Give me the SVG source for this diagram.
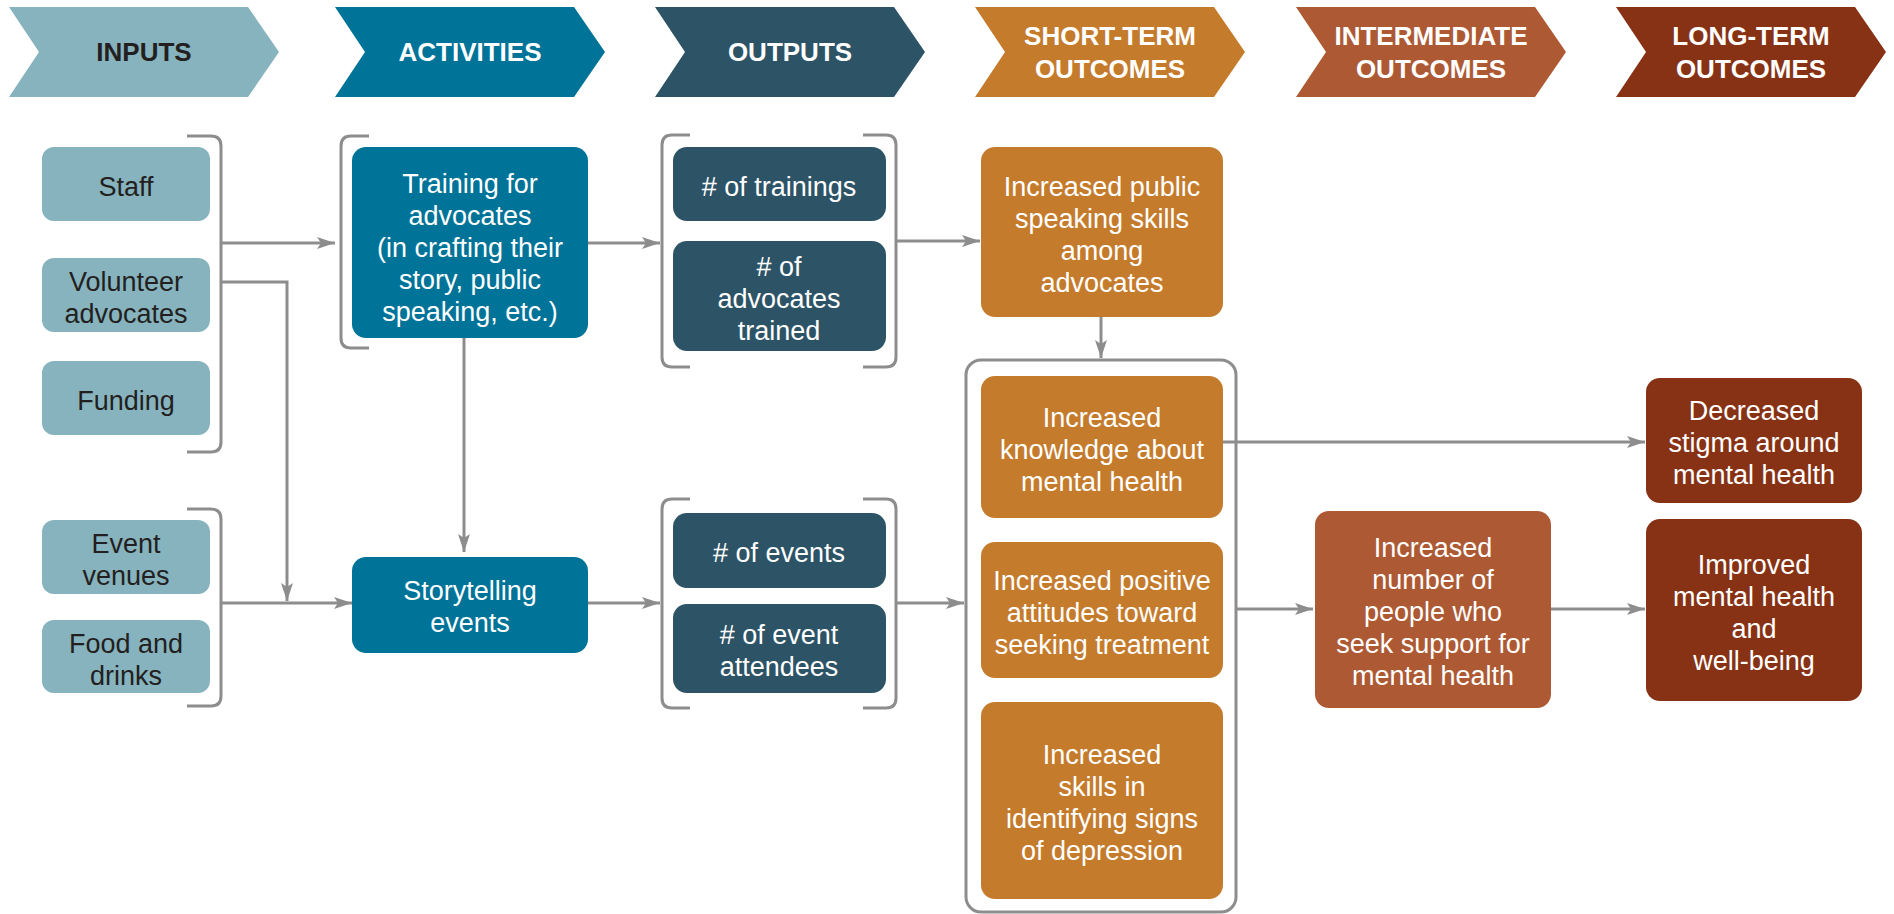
<svg xmlns="http://www.w3.org/2000/svg" width="1894" height="914" viewBox="0 0 1894 914">
  <defs>
    <style>
      .hd { font-family: "Liberation Sans", Arial, sans-serif; font-weight: bold; font-size: 26px; text-anchor: middle; fill: #ffffff; }
      .hd.dark { fill: #231f20; }
      .tx { font-family: "Liberation Sans", Arial, sans-serif; font-size: 27px; text-anchor: middle; fill: #ffffff; }
      .tx.dark { fill: #231f20; }
      .inp { fill: #86b3be; }
      .act { fill: #007398; }
      .out { fill: #2d5366; }
      .sto { fill: #c57b2c; }
      .ito { fill: #ad5934; }
      .lto { fill: #873215; }
      .ln { fill: none; stroke: #8d8d8d; stroke-width: 3; }
      .arr { fill: none; stroke: #8d8d8d; stroke-width: 3; marker-end: url(#ah); }
    </style>
    <marker id="ah" markerUnits="userSpaceOnUse" markerWidth="20" markerHeight="14" viewBox="0 0 20 14" refX="19" refY="7" orient="auto">
      <path d="M1,1 L19,7 L1,13 L5,7 Z" fill="#8d8d8d"/>
    </marker>
    <path id="chev" d="M0,0 H239 L270,45 L239,90 H0 L30,45 Z"/>
  </defs>

  <!-- column headers -->
  <g id="hdr-inputs">
    <use href="#chev" x="9" y="7" class="inp"/>
    <text class="hd dark" x="144" y="61">INPUTS</text>
  </g>
  <g id="hdr-activities">
    <use href="#chev" x="335" y="7" class="act"/>
    <text class="hd" x="470" y="61">ACTIVITIES</text>
  </g>
  <g id="hdr-outputs">
    <use href="#chev" x="655" y="7" class="out"/>
    <text class="hd" x="790" y="61">OUTPUTS</text>
  </g>
  <g id="hdr-short">
    <use href="#chev" x="975" y="7" class="sto"/>
    <text class="hd" x="1110" y="45">SHORT-TERM</text>
    <text class="hd" x="1110" y="78">OUTCOMES</text>
  </g>
  <g id="hdr-intermediate">
    <use href="#chev" x="1296" y="7" class="ito"/>
    <text class="hd" x="1431" y="45">INTERMEDIATE</text>
    <text class="hd" x="1431" y="78">OUTCOMES</text>
  </g>
  <g id="hdr-long">
    <use href="#chev" x="1616" y="7" class="lto"/>
    <text class="hd" x="1751" y="45">LONG-TERM</text>
    <text class="hd" x="1751" y="78">OUTCOMES</text>
  </g>

  <!-- brackets, group frame and arrows -->
  <g id="connectors">
    <path class="ln" d="M187,136 H211 Q221,136 221,146 V442 Q221,452 211,452 H187"/>
    <path class="ln" d="M187,509 H211 Q221,509 221,519 V696 Q221,706 211,706 H187"/>
    <path class="ln" d="M369,136 H351 Q341,136 341,146 V338 Q341,348 351,348 H369"/>
    <path class="ln" d="M690,135 H672 Q662,135 662,145 V357 Q662,367 672,367 H690"/>
    <path class="ln" d="M863,135 H886 Q896,135 896,145 V357 Q896,367 886,367 H863"/>
    <path class="ln" d="M690,499 H672 Q662,499 662,509 V698 Q662,708 672,708 H690"/>
    <path class="ln" d="M863,499 H886 Q896,499 896,509 V698 Q896,708 886,708 H863"/>
    <rect class="ln" x="966" y="360" width="270" height="552" rx="15"/>

    <path class="arr" d="M221,243 H335"/>
    <path class="arr" d="M221,282 H287 V601"/>
    <path class="arr" d="M221,603 H352"/>
    <path class="arr" d="M464,338 V552"/>
    <path class="arr" d="M588,243 H660"/>
    <path class="arr" d="M588,603 H660"/>
    <path class="arr" d="M896,241 H980"/>
    <path class="arr" d="M896,603 H964"/>
    <path class="arr" d="M1101,317 V358"/>
    <path class="arr" d="M1223,442 H1645"/>
    <path class="arr" d="M1236,609 H1313"/>
    <path class="arr" d="M1551,609 H1645"/>
  </g>

  <!-- inputs -->
  <g id="staff">
    <rect class="inp" x="42" y="147" width="168" height="74" rx="12"/>
    <text class="tx dark" x="126" y="196">Staff</text>
  </g>
  <g id="volunteer-advocates">
    <rect class="inp" x="42" y="258" width="168" height="74" rx="12"/>
    <text class="tx dark" x="126" y="291">Volunteer</text>
    <text class="tx dark" x="126" y="323">advocates</text>
  </g>
  <g id="funding">
    <rect class="inp" x="42" y="361" width="168" height="74" rx="12"/>
    <text class="tx dark" x="126" y="410">Funding</text>
  </g>
  <g id="event-venues">
    <rect class="inp" x="42" y="520" width="168" height="74" rx="12"/>
    <text class="tx dark" x="126" y="553">Event</text>
    <text class="tx dark" x="126" y="585">venues</text>
  </g>
  <g id="food-drinks">
    <rect class="inp" x="42" y="620" width="168" height="73" rx="12"/>
    <text class="tx dark" x="126" y="653">Food and</text>
    <text class="tx dark" x="126" y="685">drinks</text>
  </g>

  <!-- activities -->
  <g id="training">
    <rect class="act" x="352" y="147" width="236" height="191" rx="14"/>
    <text class="tx" x="470" y="193">Training for</text>
    <text class="tx" x="470" y="225">advocates</text>
    <text class="tx" x="470" y="257">(in crafting their</text>
    <text class="tx" x="470" y="289">story, public</text>
    <text class="tx" x="470" y="321">speaking, etc.)</text>
  </g>
  <g id="storytelling">
    <rect class="act" x="352" y="557" width="236" height="96" rx="14"/>
    <text class="tx" x="470" y="600">Storytelling</text>
    <text class="tx" x="470" y="632">events</text>
  </g>

  <!-- outputs -->
  <g id="num-trainings">
    <rect class="out" x="673" y="147" width="213" height="74" rx="14"/>
    <text class="tx" x="779" y="196"># of trainings</text>
  </g>
  <g id="num-advocates">
    <rect class="out" x="673" y="241" width="213" height="110" rx="14"/>
    <text class="tx" x="779" y="276"># of</text>
    <text class="tx" x="779" y="308">advocates</text>
    <text class="tx" x="779" y="340">trained</text>
  </g>
  <g id="num-events">
    <rect class="out" x="673" y="513" width="213" height="75" rx="14"/>
    <text class="tx" x="779" y="562"># of events</text>
  </g>
  <g id="num-attendees">
    <rect class="out" x="673" y="604" width="213" height="89" rx="14"/>
    <text class="tx" x="779" y="644"># of event</text>
    <text class="tx" x="779" y="676">attendees</text>
  </g>

  <!-- short-term outcomes -->
  <g id="public-speaking">
    <rect class="sto" x="981" y="147" width="242" height="170" rx="14"/>
    <text class="tx" x="1102" y="196">Increased public</text>
    <text class="tx" x="1102" y="228">speaking skills</text>
    <text class="tx" x="1102" y="260">among</text>
    <text class="tx" x="1102" y="292">advocates</text>
  </g>
  <g id="knowledge">
    <rect class="sto" x="981" y="376" width="242" height="142" rx="14"/>
    <text class="tx" x="1102" y="427">Increased</text>
    <text class="tx" x="1102" y="459">knowledge about</text>
    <text class="tx" x="1102" y="491">mental health</text>
  </g>
  <g id="attitudes">
    <rect class="sto" x="981" y="542" width="242" height="136" rx="14"/>
    <text class="tx" x="1102" y="590">Increased positive</text>
    <text class="tx" x="1102" y="622">attitudes toward</text>
    <text class="tx" x="1102" y="654">seeking treatment</text>
  </g>
  <g id="depression-skills">
    <rect class="sto" x="981" y="702" width="242" height="197" rx="14"/>
    <text class="tx" x="1102" y="764">Increased</text>
    <text class="tx" x="1102" y="796">skills in</text>
    <text class="tx" x="1102" y="828">identifying signs</text>
    <text class="tx" x="1102" y="860">of depression</text>
  </g>

  <!-- intermediate outcome -->
  <g id="seek-support">
    <rect class="ito" x="1315" y="511" width="236" height="197" rx="14"/>
    <text class="tx" x="1433" y="557">Increased</text>
    <text class="tx" x="1433" y="589">number of</text>
    <text class="tx" x="1433" y="621">people who</text>
    <text class="tx" x="1433" y="653">seek support for</text>
    <text class="tx" x="1433" y="685">mental health</text>
  </g>

  <!-- long-term outcomes -->
  <g id="stigma">
    <rect class="lto" x="1646" y="378" width="216" height="125" rx="14"/>
    <text class="tx" x="1754" y="420">Decreased</text>
    <text class="tx" x="1754" y="452">stigma around</text>
    <text class="tx" x="1754" y="484">mental health</text>
  </g>
  <g id="wellbeing">
    <rect class="lto" x="1646" y="519" width="216" height="182" rx="14"/>
    <text class="tx" x="1754" y="574">Improved</text>
    <text class="tx" x="1754" y="606">mental health</text>
    <text class="tx" x="1754" y="638">and</text>
    <text class="tx" x="1754" y="670">well-being</text>
  </g>
</svg>
